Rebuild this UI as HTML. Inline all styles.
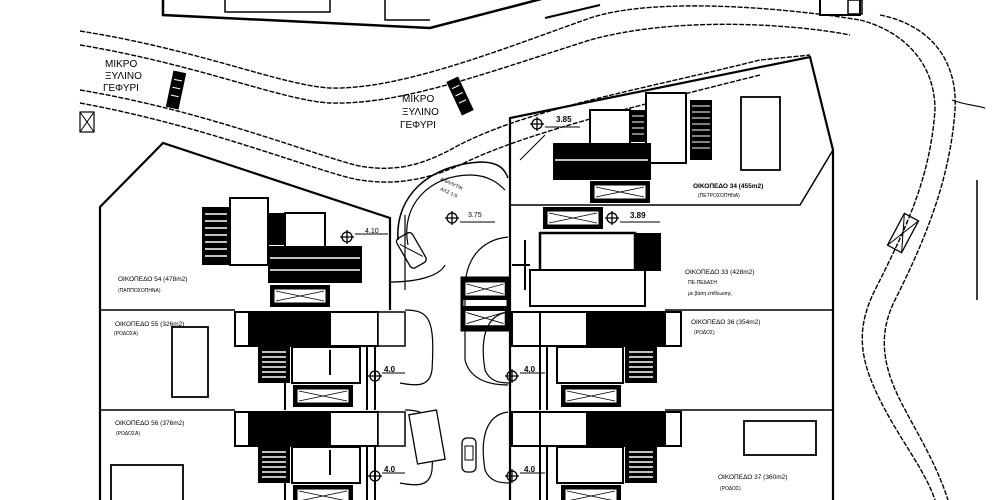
<!DOCTYPE html>
<html><head><meta charset="utf-8"><style>
html,body{margin:0;padding:0;background:#fff}
svg{display:block}
text{font-family:"Liberation Sans",sans-serif;fill:#000}
</style></head><body>
<svg width="1000" height="500" viewBox="0 0 1000 500" xmlns="http://www.w3.org/2000/svg">
<defs>
<g id="hx"><rect x="0" y="0" width="60" height="22" fill="#000"/><rect x="4" y="4" width="52" height="14" fill="#fff" stroke="#000"/><path d="M6 6L54 16M6 16L54 6" stroke="#000" stroke-width="0.8"/></g>
<g id="st"><rect x="0" y="0" width="32" height="36" fill="#000"/><g stroke="#fff" stroke-width="1.6"><path d="M4 5H28M4 10H28M4 15H28M4 20H28M4 25H28M4 30H28"/></g></g>
<g id="mk"><circle cx="0" cy="0" r="5" fill="none" stroke="#000" stroke-width="1.3"/><path d="M-7 0H7M0 -7V7" stroke="#000" stroke-width="1.3"/></g>
</defs>
<g fill="none" stroke="#000">
<!-- top buildings -->
<path d="M163 0V15L430 28L545 -2" stroke-width="2.5"/>
<path d="M225 0V12H330V0M385 0V20H430" stroke-width="1.5"/>
<path d="M545 18L600 5M820 0V15H860V0" stroke-width="2"/>
<rect x="848" y="0" width="14" height="14" stroke-width="1.5"/>
<!-- road lines -->
<g stroke-width="1.4" stroke-dasharray="5 1.5">
<path d="M80 31C200 50 280 85 330 88C400 90 500 50 590 18C660 -5 800 10 860 20"/>
<path d="M80 45C200 65 280 100 330 103C400 105 480 75 590 40C680 15 800 25 850 35"/>
<path d="M80 90C200 110 300 150 355 165C400 175 430 160 450 150C520 110 640 90 760 60L810 55"/>
<path d="M80 103C200 125 300 165 350 178C395 188 430 178 460 165C520 135 620 110 760 75"/>
<path d="M860 20C900 30 935 60 935 110C930 180 905 230 875 290C855 330 860 360 880 400C900 440 925 470 935 500"/>
<path d="M880 15C930 25 958 60 955 110C950 180 925 240 895 300C880 330 880 360 900 400C915 430 935 460 948 500"/>
</g>
<path d="M952 100C965 105 975 105 985 108" stroke-width="1.2"/>
<path d="M977 180V300" stroke-width="1.5"/>
<!-- bridges -->
<g transform="rotate(12 176 90)"><rect x="170" y="72" width="12" height="36" fill="#000"/><path d="M172 80h8M172 88h8M172 96h8" stroke="#fff"/></g>
<g transform="rotate(-25 460 96)"><rect x="454" y="78" width="12" height="36" fill="#000"/><path d="M456 86h8M456 94h8M456 102h8" stroke="#fff"/></g>
<rect x="80" y="112" width="14" height="20" stroke-width="1.2"/><path d="M80 112L94 132M94 112L80 132"/>
<g transform="rotate(28 903 233)"><rect x="895" y="215" width="16" height="36" stroke-width="1.3"/><path d="M895 215L911 251M911 215L895 251"/></g>
<!-- plot boundaries -->
<path d="M100 500V207L163 143L390 218V310" stroke-width="2.2"/>
<path d="M100 310H235M100 410H235" stroke-width="1.5"/>
<path d="M510 500V118L810 57L833 150V500" stroke-width="2.2"/>
<path d="M833 150L800 205H510" stroke-width="1.5"/>
<path d="M665 310H833M665 410H833" stroke-width="1.5"/>
<rect x="741" y="97" width="39" height="73" stroke-width="1.8"/>
<rect x="172" y="327" width="36" height="70" stroke-width="1.8"/>
<rect x="111" y="465" width="72" height="40" stroke-width="1.8"/>
<rect x="744" y="421" width="72" height="34" stroke-width="1.8"/>
<!-- roundabout area -->
<path d="M398 240C395 195 430 165 480 162C500 162 505 170 508 178" stroke-width="1.5"/>
<path d="M408 245C400 205 430 175 470 175C490 175 500 185 505 190" stroke-width="1.2"/>
<path d="M390 282C420 282 440 275 445 265M405 215V290" stroke-width="1.2"/>
<path d="M508 237C480 240 465 260 465 290V360C470 380 490 385 508 385" stroke-width="1.2"/>
<g transform="rotate(-30 410 250)"><rect x="402" y="234" width="18" height="34" rx="4" stroke-width="1.3"/><path d="M404 240L418 262"/></g>
</g>
<!-- top-left building plot 54 -->
<use href="#st" x="202" y="207" transform="translate(0 0)"/>
<rect x="202" y="207" width="28" height="58" fill="#000"/><g stroke="#fff" stroke-width="1.6"><path d="M205 214H227M205 221H227M205 228H227M205 235H227M205 242H227M205 249H227M205 256H227"/></g>
<rect x="230" y="198" width="38" height="67" fill="#fff" stroke="#000" stroke-width="2"/>
<rect x="268" y="213" width="17" height="32" fill="#000"/>
<rect x="285" y="213" width="40" height="34" fill="#fff" stroke="#000" stroke-width="2"/>
<rect x="268" y="246" width="94" height="37" fill="#000"/><path d="M270 258H360M270 270H360" stroke="#fff" stroke-width="1.5"/>
<use href="#hx" x="270" y="285" transform="scale(1)"/>
<use href="#mk" x="347" y="237"/><path d="M355 234H388" stroke="#000"/>
<text x="365" y="233" font-size="7">4.10</text>
<!-- top-right building plot 34 -->
<rect x="590" y="110" width="40" height="34" fill="#fff" stroke="#000" stroke-width="2"/>
<rect x="630" y="110" width="16" height="32" fill="#000"/><path d="M632 116h12M632 122h12M632 128h12M632 134h12" stroke="#fff"/>
<rect x="646" y="93" width="40" height="70" fill="#fff" stroke="#000" stroke-width="2"/>
<rect x="690" y="100" width="22" height="60" fill="#000"/><path d="M692 106h18M692 112h18M692 118h18M692 124h18M692 130h18M692 136h18M692 142h18M692 148h18" stroke="#fff"/>
<rect x="553" y="143" width="98" height="37" fill="#000"/><path d="M555 160H648" stroke="#fff" stroke-width="1.5"/>
<use href="#hx" x="590" y="181"/>
<use href="#mk" x="537" y="124"/><path d="M545 127H580M520 160L545 135" stroke="#000"/>
<text x="556" y="122" font-size="8" font-weight="bold">3.85</text>
<!-- plot 33 building -->
<use href="#hx" x="543" y="207"/>
<use href="#mk" x="612" y="218"/><text x="630" y="218" font-size="8" font-weight="bold">3.89</text><path d="M620 222H660" stroke="#000"/>
<rect x="540" y="233" width="95" height="38" fill="#fff" stroke="#000" stroke-width="2.5"/>
<rect x="635" y="233" width="26" height="38" fill="#000"/>
<rect x="530" y="270" width="115" height="36" fill="#fff" stroke="#000" stroke-width="2"/>
<path d="M512 265H530M525 240V290" stroke="#000" stroke-width="2"/>
<!-- middle hatched -->
<g transform="translate(462 278) scale(0.77 1)"><use href="#hx"/></g>
<g transform="translate(462 306) scale(0.77 1.1)"><use href="#hx"/></g>
<g transform="translate(462 278)"><rect x="0" y="0" width="46" height="52" fill="none" stroke="#000" stroke-width="3"/></g>
<use href="#mk" x="452" y="218"/><path d="M460 222H495" stroke="#000"/><text x="468" y="217" font-size="7">3.75</text>
<text x="440" y="180" font-size="5" transform="rotate(25 440 180)">ΑΝΑΛΥΤΙΚ</text>
<text x="440" y="190" font-size="5" transform="rotate(25 440 190)">ΑΛΣ 1:5</text>
<!-- left rows -->
<g id="rowL">
<rect x="235" y="312" width="14" height="34" fill="#fff" stroke="#000" stroke-width="2"/>
<rect x="249" y="311" width="82" height="36" fill="#000"/>
<rect x="330" y="312" width="48" height="34" fill="#fff" stroke="#000" stroke-width="2"/>
<rect x="378" y="312" width="27" height="34" fill="#fff" stroke="#000" stroke-width="1.5"/>
<rect x="258" y="347" width="32" height="36" fill="#000"/><path d="M262 352h24M262 357h24M262 362h24M262 367h24M262 372h24M262 377h24" stroke="#fff" stroke-width="1.5"/>
<rect x="292" y="347" width="68" height="36" fill="#fff" stroke="#000" stroke-width="2"/>
<use href="#hx" x="293" y="385"/>
<path d="M367 345V410M375 345V410M285 383V410" stroke="#000" stroke-width="2"/>
<use href="#mk" x="375" y="376"/><path d="M382 373H405" stroke="#000"/><text x="384" y="372" font-size="8" font-weight="bold">4.0</text>
<path d="M330 350V375" stroke="#000" stroke-width="2"/>
<path d="M405 310C430 310 435 320 432 370C430 385 420 387 400 383" fill="none" stroke="#000" stroke-width="1.2"/>
</g>
<use href="#rowL" y="100"/>
<!-- right rows -->
<g id="rowR">
<rect x="512" y="312" width="28" height="34" fill="#fff" stroke="#000" stroke-width="2"/>
<rect x="540" y="312" width="47" height="34" fill="#fff" stroke="#000" stroke-width="2"/>
<rect x="587" y="311" width="78" height="36" fill="#000"/>
<rect x="665" y="312" width="16" height="34" fill="#fff" stroke="#000" stroke-width="2"/>
<rect x="625" y="347" width="32" height="36" fill="#000"/><path d="M629 352h24M629 357h24M629 362h24M629 367h24M629 372h24M629 377h24" stroke="#fff" stroke-width="1.5"/>
<rect x="557" y="347" width="66" height="36" fill="#fff" stroke="#000" stroke-width="2"/>
<use href="#hx" x="561" y="385"/>
<path d="M540 345V410M547 345V410" stroke="#000" stroke-width="2"/>
<use href="#mk" x="512" y="376"/><path d="M520 373H545" stroke="#000"/><text x="524" y="372" font-size="8" font-weight="bold">4.0</text>
<path d="M508 312C485 315 480 340 485 370C490 382 500 383 510 383" fill="none" stroke="#000" stroke-width="1.2"/>
</g>
<use href="#rowR" y="100"/>
<g transform="translate(462 438)"><rect x="0" y="0" width="14" height="34" rx="5" fill="none" stroke="#000" stroke-width="1.3"/><rect x="3" y="8" width="8" height="14" fill="none" stroke="#000"/></g>
<rect x="413" y="412" width="28" height="50" fill="#fff" stroke="#000" stroke-width="1.3" transform="rotate(-10 427 437)"/>
<!-- labels -->
<g font-size="10">
<text x="105" y="67">ΜΙΚΡΟ</text><text x="105" y="79">ΞΥΛΙΝΟ</text><text x="103" y="91">ΓΕΦΥΡΙ</text>
<text x="402" y="102">ΜΙΚΡΟ</text><text x="402" y="115">ΞΥΛΙΝΟ</text><text x="400" y="128">ΓΕΦΥΡΙ</text>
</g>
<g font-size="6.5">
<text x="693" y="188" font-weight="bold">ΟΙΚΟΠΕΔΟ 34 (455m2)</text><text x="698" y="197" font-size="5">(ΠΕΤΡΟΣΟΠΗΝΑ)</text>
<text x="118" y="281">ΟΙΚΟΠΕΔΟ 54 (478m2)</text><text x="118" y="292" font-size="5">(ΠΑΠΠΟΣΟΠΗΝΑ)</text>
<text x="115" y="326">ΟΙΚΟΠΕΔΟ 55 (326m2)</text><text x="114" y="335" font-size="5">(ΡΟΔΟΣΑ)</text>
<text x="115" y="425">ΟΙΚΟΠΕΔΟ 56 (376m2)</text><text x="116" y="435" font-size="5">(ΡΟΔΟΣΑ)</text>
<text x="685" y="274">ΟΙΚΟΠΕΔΟ 33 (428m2)</text><text x="688" y="284" font-size="5">ΠΕ-ΠΕΔΑΣΗ</text><text x="688" y="295" font-size="5">με βάση επίθεωσης</text>
<text x="691" y="324">ΟΙΚΟΠΕΔΟ 36 (354m2)</text><text x="694" y="334" font-size="5">(ΡΟΔΟΣ)</text>
<text x="718" y="479">ΟΙΚΟΠΕΔΟ 37 (360m2)</text><text x="720" y="490" font-size="5">(ΡΟΔΟΣ)</text>
</g>
</svg>
</body></html>
